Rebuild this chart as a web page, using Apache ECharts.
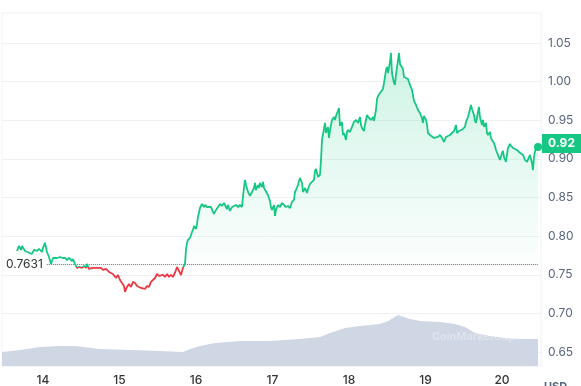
<!DOCTYPE html>
<html>
<head>
<meta charset="utf-8">
<script src="https://cdn.jsdelivr.net/npm/echarts@6/dist/echarts.min.js"></script>
<style>
html,body{margin:0;padding:0;background:#fff;}
#chart{width:581px;height:386px;}
</style>
</head>
<body>
<div id="chart"></div>
<script>
// Time in days of the month
var priceTimes = [13.660,13.686,13.712,13.726,13.752,13.765,13.856,13.882,13.922,13.948,13.987,14.000,14.026,14.052,14.078,14.105,14.131,14.157,14.183,14.222,14.261,14.288,14.314,14.340,14.379,14.392,14.418,14.444,14.471,14.510,14.536,14.562,14.575,14.601,14.627,14.654,14.693,14.719,14.758,14.784,14.824,14.863,14.889,14.915,14.941,14.954,14.980,15.007,15.033,15.059,15.072,15.098,15.124,15.150,15.176,15.203,15.229,15.255,15.281,15.307,15.333,15.359,15.386,15.412,15.438,15.464,15.490,15.516,15.542,15.569,15.595,15.621,15.647,15.673,15.699,15.725,15.752,15.765,15.778,15.804,15.817,15.830,15.856,
15.869,15.882,15.895,15.922,15.948,15.961,15.974,16.000,16.013,16.026,16.052,16.078,16.105,16.118,16.144,16.170,16.196,16.222,16.235,16.261,16.288,16.314,16.340,16.366,16.392,16.405,16.418,16.444,16.471,16.497,16.523,16.549,16.575,16.601,16.614,16.627,16.641,16.654,16.680,16.693,16.706,16.732,16.758,16.771,16.784,16.810,16.824,16.837,16.863,16.876,16.889,16.915,16.941,16.967,16.980,16.993,17.020,17.033,17.046,17.072,17.098,17.124,17.150,17.176,17.203,17.229,17.255,17.281,17.294,17.307,17.333,17.359,17.386,17.399,17.425,17.451,17.464,17.490,17.516,17.542,17.556,17.569,17.595,17.621,17.634,17.647,17.673,17.686,17.699,17.725,17.739,17.752,17.778,17.804,17.817,17.830,17.856,17.869,17.882,17.908,17.922,17.935,17.961,17.974,17.987,18.013,18.039,18.065,18.092,18.118,18.144,18.157,18.170,18.196,18.209,18.235,18.261,18.288,18.314,18.327,18.353,18.366,18.379,18.405,18.431,18.444,18.458,18.484,18.497,18.510,18.536,18.549,18.562,18.588,18.601,18.614,18.641,18.654,18.667,18.693,18.706,18.719,18.745,18.771,18.797,18.824,18.850,18.863,18.876,18.902,18.928,18.954,18.967,18.980,19.007,19.020,19.033,19.059,19.085,19.111,19.137,19.163,19.190,19.216,19.242,19.268,19.294,19.320,19.346,19.373,19.399,19.412,19.438,19.464,19.490,19.516,19.529,19.556,19.569,19.595,19.608,19.634,19.647,19.660,19.686,19.699,19.712,19.739,19.752,19.765,19.791,19.804,19.817,19.843,19.856,19.869,19.895,19.908,19.922,19.948,19.961,19.974,20.000,20.013,20.026,20.052,20.065,20.078,20.105,20.118,20.144,20.170,20.196,20.222,20.248,20.275,20.301,20.327,20.353,20.366,20.392,20.405,20.418,20.444,20.471];

var priceValues = [0.7808,0.7873,0.7821,0.7873,0.7860,0.7808,0.7769,0.7821,0.7808,0.7834,0.7795,0.7847,0.7912,0.7795,0.7730,0.7640,0.7717,0.7730,0.7717,0.7730,0.7717,0.7717,0.7691,0.7717,0.7678,0.7704,0.7640,0.7588,0.7601,0.7588,0.7614,0.7588,0.7640,0.7575,0.7588,0.7588,0.7588,0.7575,0.7588,0.7562,0.7575,0.7536,0.7549,0.7510,0.7523,0.7458,0.7497,0.7432,0.7407,0.7355,0.7277,0.7342,0.7381,0.7342,0.7407,0.7394,0.7355,0.7368,0.7329,0.7342,0.7316,0.7355,0.7342,0.7407,0.7419,0.7458,0.7510,0.7484,0.7471,0.7497,0.7471,0.7510,0.7471,0.7497,0.7471,0.7523,0.7601,0.7588,0.7601,0.7497,0.7484,0.7588,0.7640,
0.7821,0.7912,0.7950,0.7976,0.8054,0.8080,0.8131,0.8093,0.8157,0.8248,0.8364,0.8416,0.8377,0.8403,0.8377,0.8390,0.8377,0.8313,0.8287,0.8339,0.8377,0.8416,0.8390,0.8429,0.8442,0.8351,0.8403,0.8326,0.8377,0.8364,0.8403,0.8377,0.8403,0.8377,0.8507,0.8623,0.8727,0.8662,0.8571,0.8546,0.8520,0.8571,0.8623,0.8688,0.8597,0.8662,0.8623,0.8688,0.8636,0.8701,0.8623,0.8636,0.8533,0.8455,0.8377,0.8339,0.8403,0.8261,0.8339,0.8403,0.8377,0.8429,0.8403,0.8377,0.8390,0.8364,0.8442,0.8468,0.8571,0.8597,0.8662,0.8753,0.8688,0.8571,0.8623,0.8559,0.8610,0.8675,0.8701,0.8727,0.8843,0.8869,0.8766,0.8792,0.8986,0.9245,0.9387,0.9465,0.9335,0.9413,0.9271,0.9374,0.9504,0.9542,0.9504,0.9555,0.9542,0.9659,0.9426,0.9478,0.9309,0.9335,0.9245,0.9348,0.9374,0.9348,0.9413,0.9478,0.9504,0.9465,0.9542,0.9439,0.9400,0.9361,0.9439,0.9568,0.9529,0.9504,0.9542,0.9491,0.9633,0.9775,0.9814,0.9853,0.9840,0.9905,0.9983,1.0151,1.0190,1.0112,1.0254,1.0371,1.0112,0.9983,0.9957,1.0086,1.0280,1.0371,1.0229,1.0254,1.0164,1.0060,1.0060,1.0034,0.9957,0.9892,0.9750,0.9737,0.9698,0.9633,0.9594,0.9529,0.9465,0.9555,0.9504,0.9439,0.9335,0.9309,0.9284,0.9271,0.9258,0.9284,0.9309,0.9271,0.9219,0.9284,0.9296,0.9309,0.9335,0.9361,0.9439,0.9335,0.9361,0.9348,0.9387,0.9413,0.9478,0.9542,0.9594,0.9698,0.9646,0.9568,0.9491,0.9465,0.9607,0.9672,0.9542,0.9439,0.9504,0.9413,0.9465,0.9335,0.9309,0.9348,0.9271,0.9245,0.9206,0.9167,0.9115,0.9051,0.9012,0.8986,0.9076,0.9102,0.9025,0.8960,0.9051,0.9141,0.9193,0.9167,0.9141,0.9128,0.9115,0.9089,0.9076,0.9051,0.8986,0.8960,0.8973,0.9051,0.8947,0.8856,0.9025,0.9154,0.9154];

// Volume (relative units)
var volumeTimes = [13.464,13.699,13.961,14.222,14.418,14.745,15.137,15.529,15.830,15.922,16.052,16.248,16.575,16.967,17.359,17.621,17.752,17.948,18.144,18.405,18.510,18.641,18.797,18.928,19.190,19.386,19.516,19.647,19.843,20.039,20.235,20.471];
var volumeValues = [14,16,19,20,20,17,16,15,14,17,20,23,25,25,27,29,33,38,40,42,45,51,47,45,44,42,39,33,30,28,27,27];

var xTickLabels = [14,15,16,17,18,19,20];
var baselinePrice = 0.7631;
var baselineStart = 14.05;
var xMin = 13.464, xMax = 20.51;
var yMin = 0.65, yMax = 1.05;

var GREEN = '#16c784', RED = '#ea3943';
var pricePairs = priceTimes.map(function(t,i){return [t, priceValues[i]];});
var volPairs = volumeTimes.map(function(t,i){return [t, volumeValues[i]];});
var lastT = priceTimes[priceTimes.length-1];
var lastP = priceValues[priceValues.length-1];
var pMax = Math.max.apply(null, priceValues), pMin = Math.min.apply(null, priceValues);
var lineSplit = (pMax - baselinePrice) / (pMax - pMin);
var areaSplit = (pMax - baselinePrice) / (pMax - yMin);

var chart = echarts.init(document.getElementById('chart'), null, {renderer:'canvas'});
chart.setOption({
  animation: false,
  textStyle: {fontFamily: 'Inter, Roboto, sans-serif'},
  grid: [
    {left: 2, right: 40, top: 43, bottom: 34},
    {left: 2, right: 40, top: 13, bottom: 20, show: true, borderColor: '#eff2f5', borderWidth: 1, backgroundColor: 'transparent'}
  ],
  xAxis: [
    {gridIndex: 0, type: 'value', min: xMin, max: xMax, show: false},
    {gridIndex: 1, type: 'value', min: xMin, max: xMax,
     axisLine: {show: false}, axisTick: {show: false}, splitLine: {show: false},
     axisLabel: {customValues: xTickLabels, color: '#333', fontSize: 12, margin: 8, fontWeight: 500,
       formatter: function(v){return String(Math.round(v));}}}
  ],
  yAxis: [
    {gridIndex: 0, type: 'value', position: 'right', min: yMin, max: yMax, interval: 0.05,
     axisLine: {show: false}, axisTick: {show: false},
     splitLine: {lineStyle: {color: '#eff2f5', width: 1}},
     axisLabel: {color: '#58667e', fontSize: 12, margin: 7, formatter: function(v){return v.toFixed(2);}}},
    {gridIndex: 1, type: 'value', min: 0, max: 353, show: false}
  ],
  graphic: [
    {type: 'text', right: 66, top: 331, z: 100, style: {text: 'CoinMarketCap', fill: 'rgba(255,255,255,0.35)', font: '600 11px Inter, sans-serif'}},
    {type: 'text', left: 544, top: 381, style: {text: 'USD', fill: '#58667e', font: 'bold 11px Inter, sans-serif'}}
  ],
  series: [
    {
      type: 'line', xAxisIndex: 0, yAxisIndex: 0, data: pricePairs,
      showSymbol: false, symbol: 'none', z: 5,
      lineStyle: {width: 1.8, color: {type: 'linear', x: 0, y: 0, x2: 0, y2: 1, colorStops: [
        {offset: 0, color: GREEN}, {offset: lineSplit, color: GREEN},
        {offset: lineSplit, color: RED}, {offset: 1, color: RED}]}},
      areaStyle: {
        origin: 'start',
        color: {type: 'linear', x: 0, y: 0, x2: 0, y2: 1, colorStops: [
          {offset: 0, color: 'rgba(22,199,132,0.30)'},
          {offset: areaSplit, color: 'rgba(22,199,132,0.02)'},
          {offset: areaSplit, color: 'rgba(255,255,255,0)'},
          {offset: 1, color: 'rgba(255,255,255,0)'}
        ]}
      },
      markLine: {
        silent: true, symbol: 'none', animation: false,
        data: [
          [{coord: [baselineStart, baselinePrice],
            lineStyle: {type: 'dotted', color: '#777', width: 1},
            label: {show: true, position: 'start', distance: 4, formatter: String(baselinePrice), color: '#333', fontSize: 12}},
           {coord: [lastT, baselinePrice]}],
          {yAxis: lastP, lineStyle: {color: 'rgba(0,0,0,0)', width: 1},
           label: {show: true, position: 'end', distance: 1, formatter: lastP.toFixed(2),
             backgroundColor: GREEN, color: '#fff', fontWeight: 'bold', fontSize: 12, padding: [4, 9, 3, 6]}}
        ]
      },
      markPoint: {
        silent: true, symbol: 'circle', symbolSize: 8, itemStyle: {color: GREEN},
        label: {show: false},
        data: [{coord: [lastT, lastP]}]
      }
    },
    {
      type: 'line', xAxisIndex: 1, yAxisIndex: 1, data: volPairs,
      showSymbol: false, symbol: 'none', z: 3,
      lineStyle: {width: 0},
      areaStyle: {color: '#cfd6e4', opacity: 1}
    }
  ]
});
</script>
</body>
</html>
